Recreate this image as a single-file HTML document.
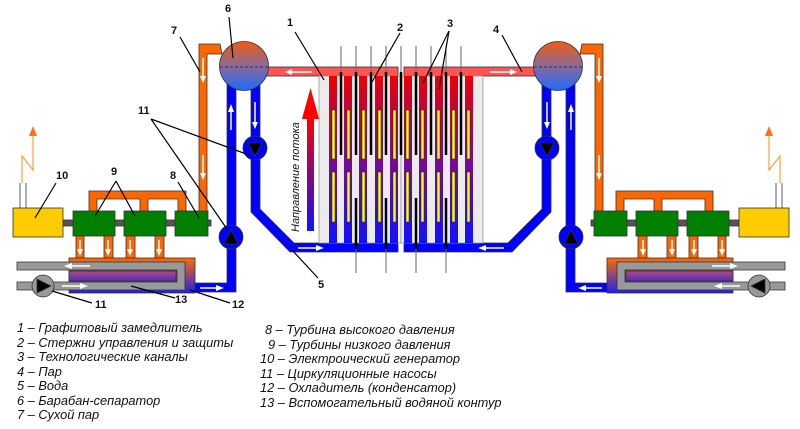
<!DOCTYPE html>
<html><head><meta charset="utf-8"><style>
html,body{margin:0;padding:0;background:#fff;width:800px;height:429px;overflow:hidden}
svg{display:block}
.t{font-family:"Liberation Sans","DejaVu Sans",sans-serif;font-weight:bold;font-size:11px;fill:#111}
.lg{font-family:"Liberation Sans","DejaVu Sans",sans-serif;font-style:italic;font-size:12.8px;fill:#111}
</style></head><body>
<svg width="800" height="429" viewBox="0 0 800 429" xmlns="http://www.w3.org/2000/svg">
<defs>
<linearGradient id="ch" x1="0" y1="0" x2="0" y2="1"><stop offset="0" stop-color="#ee0000"/><stop offset="0.5" stop-color="#7a0a90"/><stop offset="1" stop-color="#1010ff"/></linearGradient>
<linearGradient id="dr" x1="0" y1="0" x2="0" y2="1"><stop offset="0" stop-color="#f05a10"/><stop offset="0.5" stop-color="#8a6a9a"/><stop offset="1" stop-color="#1a6aff"/></linearGradient>
<linearGradient id="cd" x1="0" y1="0" x2="0" y2="1"><stop offset="0" stop-color="#ff6a00"/><stop offset="1" stop-color="#2020ee"/></linearGradient>
<linearGradient id="pu" x1="0" y1="0" x2="0" y2="1"><stop offset="0" stop-color="#b04a80"/><stop offset="1" stop-color="#5030c0"/></linearGradient>
<linearGradient id="fa" x1="0" y1="0" x2="0" y2="1"><stop offset="0" stop-color="#ff0000"/><stop offset="1" stop-color="#1010ff"/></linearGradient>
<g id="half" stroke="#333" stroke-width="0.8">
  <path d="M220,44 H199 V212 H207 V54 H222 Z" fill="#ff6600"/>
  <path d="M227,80 V283 H195 V292 H236 V80 Z" fill="#0000ff"/>
  <path d="M251,80 V212 L290,252 H398 V243 H294 L260,209 V80 Z" fill="#0000ff"/>
  <rect x="262" y="67" width="136" height="9" fill="#ff5555"/>
  <circle cx="244" cy="66" r="24.5" fill="url(#dr)"/>
  <line x1="220" y1="67" x2="268" y2="67" stroke-dasharray="3,2" stroke-width="1"/>
  <rect x="319" y="76" width="82" height="167" fill="#ebebeb" stroke="#999"/>
  <g stroke="none" fill="url(#ch)">
    <rect x="329" y="76" width="8" height="167"/><rect x="344" y="76" width="8" height="167"/>
    <rect x="359" y="76" width="8" height="167"/><rect x="375" y="76" width="8" height="167"/>
    <rect x="390" y="76" width="8" height="167"/>
  </g>
  <g stroke="#222" stroke-width="0.5" fill="#ffff00">
    <rect x="332" y="110" width="3" height="49"/><rect x="347" y="110" width="3" height="49"/><rect x="362" y="110" width="3" height="49"/><rect x="378" y="110" width="3" height="49"/><rect x="393" y="110" width="3" height="49"/>
    <rect x="332" y="172" width="3" height="50"/><rect x="347" y="172" width="3" height="50"/><rect x="362" y="172" width="3" height="50"/><rect x="378" y="172" width="3" height="50"/><rect x="393" y="172" width="3" height="50"/>
  </g>
  <g stroke="#666" stroke-width="1">
    <line x1="341" y1="46" x2="341" y2="72"/><line x1="356" y1="46" x2="356" y2="72"/><line x1="371" y1="46" x2="371" y2="72"/><line x1="386" y1="46" x2="386" y2="72"/>
    <line x1="356" y1="249" x2="356" y2="273"/><line x1="386" y1="249" x2="386" y2="273"/>
  </g>
  <g stroke="#000" stroke-width="2.5">
    <line x1="341" y1="72" x2="341" y2="155"/><line x1="356" y1="72" x2="356" y2="155"/><line x1="371" y1="72" x2="371" y2="155"/><line x1="386" y1="72" x2="386" y2="155"/>
    <line x1="356" y1="198" x2="356" y2="249"/><line x1="386" y1="198" x2="386" y2="249"/>
  </g>
  <circle cx="255" cy="148" r="12" fill="#0000ff"/>
  <path d="M248,143 H262 L255,156 Z" fill="#000"/>
  <circle cx="231" cy="237" r="12" fill="#0000ff"/>
  <path d="M224,244 H238 L231,230 Z" fill="#000"/>
  <path d="M89,211 V191 H186 V211 H178 V199 H148 V211 H140 V199 H97 V211 Z" fill="#ff6600"/>
  <rect x="63" y="220" width="148" height="6" fill="#555"/>
  <rect x="73" y="211" width="42" height="25" fill="#008000"/>
  <rect x="124" y="211" width="42" height="25" fill="#008000"/>
  <rect x="175" y="211" width="33" height="25" fill="#008000"/>
  <rect x="13" y="208" width="50" height="29" fill="#ffcc00"/>
  <line x1="20" y1="183" x2="20" y2="208"/><line x1="26" y1="183" x2="26" y2="208"/>
  <polyline points="22,183 22,156 33,170 33,135" fill="none" stroke="#ff8c1a" stroke-width="1"/>
  <path d="M29,136 L33,126 L37,136 Z" fill="#ff7010" stroke="none"/>
  <g fill="#ff6600"><rect x="76" y="236" width="8" height="22"/><rect x="104" y="236" width="9" height="22"/><rect x="126" y="236" width="9" height="22"/><rect x="155" y="236" width="9" height="22"/></g>
  <rect x="69" y="258" width="126" height="35" fill="url(#cd)"/>
  <path d="M17,262 H185 V290 H17 V282 H177 V270 H17 Z" fill="#999"/>
  <rect x="69" y="271" width="107" height="10" fill="url(#pu)"/>
  <circle cx="43" cy="286" r="11" fill="#999"/>
  <path d="M37,279 L51,286 L37,293 Z" fill="#000"/>
  <g stroke="#fff" stroke-width="1.5" fill="#fff">
    <line x1="203" y1="58" x2="203" y2="78"/><path d="M200,76 L203,83 L206,76 Z" stroke="none"/>
    <line x1="203" y1="155" x2="203" y2="175"/><path d="M200,173 L203,180 L206,173 Z" stroke="none"/>
    <line x1="231" y1="110" x2="231" y2="130"/><path d="M228,112 L231,104 L234,112 Z" stroke="none"/>
    <line x1="255" y1="102" x2="255" y2="124"/><path d="M252,122 L255,129 L258,122 Z" stroke="none"/>
    <line x1="290" y1="72" x2="312" y2="72"/><path d="M292,69 L285,72 L292,75 Z" stroke="none"/>
    <line x1="298" y1="248" x2="318" y2="248"/><path d="M316,245 L324,248 L316,251 Z" stroke="none"/>
    <line x1="200" y1="288" x2="218" y2="288"/><path d="M216,285 L224,288 L216,291 Z" stroke="none"/>
    <line x1="70" y1="266" x2="90" y2="266"/><path d="M72,263 L64,266 L72,269 Z" stroke="none"/>
    <line x1="62" y1="286" x2="82" y2="286"/><path d="M80,283 L88,286 L80,289 Z" stroke="none"/>
    <line x1="80" y1="240" x2="80" y2="250"/><path d="M77,249 L80,256 L83,249 Z" stroke="none"/>
    <line x1="108" y1="240" x2="108" y2="250"/><path d="M105,249 L108,256 L111,249 Z" stroke="none"/>
    <line x1="130" y1="240" x2="130" y2="250"/><path d="M127,249 L130,256 L133,249 Z" stroke="none"/>
    <line x1="159" y1="240" x2="159" y2="250"/><path d="M156,249 L159,256 L162,249 Z" stroke="none"/>
  </g>
</g>
</defs>
<use href="#half"/>
<use href="#half" transform="translate(802,0) scale(-1,1)"/>
<line x1="401" y1="46" x2="401" y2="72" stroke="#666"/>
<line x1="401" y1="72" x2="401" y2="155" stroke="#000" stroke-width="2.5"/>
<rect x="307" y="118" width="7" height="113" fill="url(#fa)"/>
<path d="M302,119 L310.5,88 L319,119 Z" fill="#ff0000"/>
<text class="lg" transform="translate(299,232) rotate(-90)" style="font-size:11px">Направление потока</text>
<g stroke="#000" stroke-width="1.2">
  <line x1="295" y1="32" x2="324" y2="80"/>
  <line x1="400" y1="33" x2="372" y2="82"/>
  <line x1="449" y1="31" x2="423" y2="83"/><line x1="449" y1="31" x2="439" y2="89"/>
  <line x1="502" y1="35" x2="522" y2="72"/>
  <line x1="292" y1="250" x2="318" y2="278"/>
  <line x1="229" y1="17" x2="233" y2="58"/>
  <line x1="180" y1="37" x2="200" y2="72"/>
  <line x1="151" y1="119" x2="249" y2="155"/><line x1="151" y1="119" x2="227" y2="229"/>
  <line x1="56" y1="183" x2="35" y2="218"/>
  <line x1="116" y1="181" x2="95" y2="216"/><line x1="116" y1="181" x2="135" y2="216"/>
  <line x1="178" y1="182" x2="199" y2="218"/>
  <line x1="52" y1="291" x2="92" y2="303"/>
  <line x1="131" y1="286" x2="175" y2="298"/>
  <line x1="190" y1="290" x2="230" y2="303"/>
</g>
<g class="t">
  <text x="287" y="26">1</text><text x="397" y="31">2</text><text x="447" y="27">3</text>
  <text x="493" y="33">4</text><text x="318" y="288">5</text><text x="225" y="12">6</text>
  <text x="171" y="34">7</text><text x="138" y="114">11</text><text x="56" y="179">10</text>
  <text x="111" y="175">9</text><text x="170" y="179">8</text><text x="95" y="308">11</text>
  <text x="175" y="303">13</text><text x="232" y="308">12</text>
</g>
<g class="lg">
  <text x="17" y="332">1 – Графитовый замедлитель</text>
  <text x="17" y="347">2 – Стержни  управления и  защиты</text>
  <text x="17" y="361">3  – Технологические каналы</text>
  <text x="17" y="376">4 – Пар</text>
  <text x="17" y="390">5 – Вода</text>
  <text x="17" y="405">6 – Барабан-сепаратор</text>
  <text x="17" y="419">7 – Сухой пар</text>
  <text x="265" y="334">8 – Турбина высокого давления</text>
  <text x="268" y="349">9 – Турбины низкого давления</text>
  <text x="260" y="363">10 – Электроический генератор</text>
  <text x="260" y="378">11 – Циркуляционные насосы</text>
  <text x="260" y="392">12 – Охладитель (конденсатор)</text>
  <text x="260" y="407">13  – Вспомогательный водяной контур</text>
</g>
</svg>
</body></html>
